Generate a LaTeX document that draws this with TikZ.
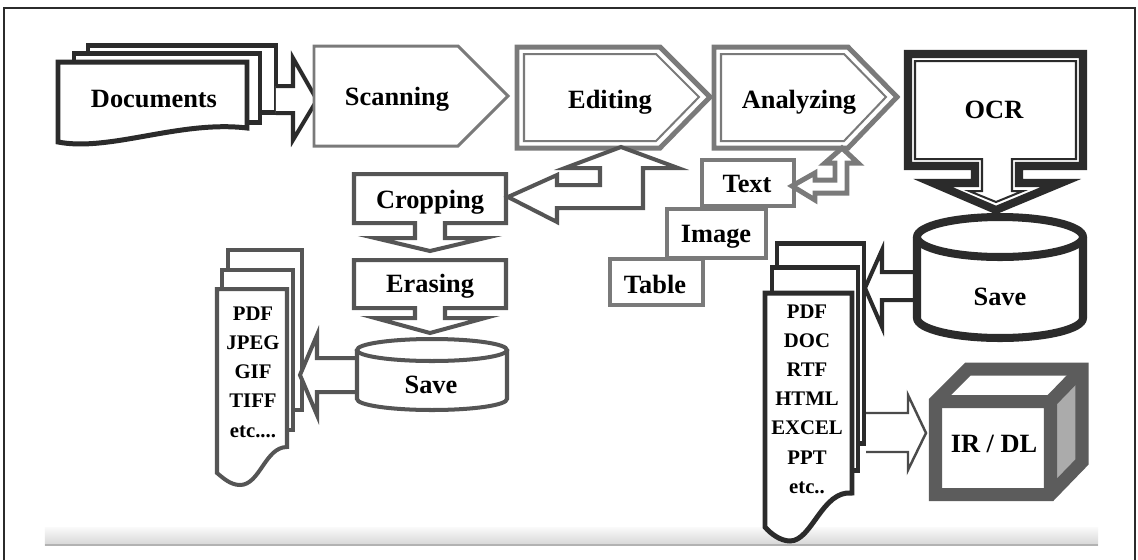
\documentclass[tikz,border=0pt]{standalone}
\usepackage{fontspec}
\setmainfont{Liberation Serif}
\definecolor{inkdark}{HTML}{2B2B2B}
\definecolor{inkmid}{HTML}{555555}
\definecolor{inkgray}{HTML}{7A7A7A}
\definecolor{cubegray}{HTML}{5C5C5C}
\definecolor{sidegray}{HTML}{ABABAB}

\begin{document}
\begin{tikzpicture}[x=0.01cm,y=-0.01cm,line join=miter,
  lbl/.style={font=\bfseries\fontsize{7.5}{9}\selectfont,anchor=base,inner sep=0pt},
  lst/.style={font=\bfseries\fontsize{5.9}{7}\selectfont,anchor=base,inner sep=0pt},
  darkline/.style={draw=inkdark,line width=1.42pt,fill=white},
  midline/.style={draw=inkmid,line width=1.14pt,fill=white},
  grayline/.style={draw=inkgray,line width=1.14pt,fill=white}]
\useasboundingbox (0,0) rectangle (1138,560);
\fill[white] (0,0) rectangle (1138,560);
\draw[inkdark,line width=0.7pt] (4,560)--(4,8)--(1135,8)--(1135,560);
\shade[top color=gray!4,bottom color=gray!32] (45,527) rectangle (1098,545);
\draw[gray!60,line width=0.4pt] (45,545)--(1098,545);

\draw[darkline] (88,45) rectangle (276,112);
\draw[darkline] (74,53) rectangle (260,122);
\draw[darkline] (58,62)--(247,62)--(247,128) .. controls (180,120) and (110,152) .. (58,142)--cycle;
\draw[darkline,line width=1.14pt] (276,86)--(293,86)--(293,58)--(317,100)--(293,140)--(293,113)--(276,113);

\draw[grayline,line width=0.85pt] (314,46)--(458,46)--(508,96)--(458,146)--(314,146)--cycle;
\draw[grayline,line width=1.42pt] (517,47)--(660,47)--(710,97)--(660,148)--(517,148)--cycle;
\draw[inkgray,line width=0.57pt] (524,54)--(656,54)--(699,97)--(656,141)--(524,141)--cycle;
\draw[grayline,line width=1.42pt] (714,47)--(848,47)--(897,97)--(848,148)--(714,148)--cycle;
\draw[inkgray,line width=0.57pt] (721,54)--(844,54)--(886,97)--(844,141)--(721,141)--cycle;

\draw[darkline,line width=2.28pt] (908,54)--(1083,54)--(1083,166)--(1019,166)--(1019,183)--(1061,183)--(996,210)--(933,183)--(975,183)--(975,166)--(908,166)--cycle;
\draw[inkdark,line width=0.57pt] (915,61)--(1076,61)--(1076,159)--(1012,159)--(1012,191)--(1023,191)--(996,202)--(969,191)--(982,191)--(982,159)--(915,159)--cycle;

\draw[darkline] (777,243) rectangle (864,443);
\draw[darkline] (772,267) rectangle (858,470);
\draw[darkline] (765,293)--(852,293)--(852,493) .. controls (822,490) and (812,541) .. (790,541) .. controls (780,541) and (770,533) .. (765,527)--cycle;
\draw[darkline,line width=1.14pt] (920,272)--(882,272)--(882,250)--(865,288)--(882,327)--(882,300)--(920,300);
\draw[darkline,line width=2.28pt] (917,237)--(917,318) arc[start angle=180,end angle=0,x radius=83,y radius=20]--(1083,237);
\draw[darkline,line width=2.28pt] (1000,237) ellipse[x radius=83,y radius=20];
\draw[draw=inkdark!85,line width=0.7pt,fill=white] (866,413)--(908,413)--(908,395)--(926,433)--(908,470)--(908,452)--(866,452);

\fill[white] (935.5,494.5)--(935.5,401.5)--(968,369)--(1082,369)--(1082,462)--(1050.5,494.5)--cycle;
\fill[sidegray] (1050.5,401.5)--(1082,369)--(1082,462)--(1050.5,494.5)--cycle;
\draw[cubegray,line width=3.7pt] (935.5,494.5)--(935.5,401.5)--(968,369)--(1082,369)--(1082,462)--(1050.5,494.5)--cycle;
\draw[cubegray,line width=3.7pt] (935.5,401.5)--(1050.5,401.5)--(1050.5,494.5) (1050.5,401.5)--(1082,369);

\draw[midline] (354,174)--(506,174)--(506,223)--(445,223)--(445,238)--(485,238)--(430,251)--(375,238)--(415,238)--(415,223)--(354,223)--cycle;
\draw[midline] (354,260)--(506,260)--(506,308)--(445,308)--(445,318)--(485,318)--(430,333)--(375,318)--(415,318)--(415,308)--(354,308)--cycle;
\draw[midline] (621,147)--(678,168)--(643,168)--(643,208)--(557,208)--(557,222)--(508,197)--(557,175)--(557,185)--(600,185)--(600,168)--(565,168)--cycle;

\draw[midline] (228,250) rectangle (302,410);
\draw[midline] (222,270) rectangle (293,430);
\draw[midline] (217,289)--(287,289)--(287,447) .. controls (265,447) and (260,485) .. (240,485) .. controls (230,485) and (222,477) .. (217,473)--cycle;
\draw[midline] (360,358)--(317,358)--(317,335)--(300,375)--(317,415)--(317,392)--(360,392);
\draw[midline] (357,350)--(357,399) arc[start angle=180,end angle=0,x radius=75,y radius=11]--(507,350);
\draw[midline] (432,350) ellipse[x radius=75,y radius=11];

\draw[grayline] (702,160) rectangle (794,206);
\draw[grayline] (667,209) rectangle (766,258);
\draw[grayline] (610,259) rectangle (703,305);
\draw[grayline,line width=1.42pt] (842,148)--(858,163)--(847,163)--(847,193)--(815,193)--(815,200)--(792,186)--(815,173)--(815,180)--(835,180)--(835,163)--(825,163)--cycle;

\node[lbl] (docs) at (154,107) {Documents};
\node[lbl] (scan) at (397,105) {Scanning};
\node[lbl] (edit) at (610,108) {Editing};
\node[lbl] (analyze) at (799,108) {Analyzing};
\node[lbl] (ocr) at (994,118) {OCR};
\node[lbl] (crop) at (430,208) {Cropping};
\node[lbl] (erase) at (430,292) {Erasing};
\node[lbl] (saveL) at (431,393) {Save};
\node[lbl] (saveR) at (1000,305) {Save};
\node[lbl] (txt) at (747,192) {Text};
\node[lbl] (img) at (716,242) {Image};
\node[lbl] (tbl) at (655,293) {Table};
\node[lbl] (irdl) at (994,452) {IR / DL};
\foreach \t [count=\i] in {PDF,JPEG,GIF,TIFF}
  \node[lst] (fmtL\i) at (253,{320+29.2*(\i-1)}) {\t};
\node[lst] (fmtL5) at (253,437) {etc....};
\foreach \t [count=\i] in {PDF,DOC,RTF,HTML,EXCEL,PPT}
  \node[lst] (fmtR\i) at (807,{318+29.2*(\i-1)}) {\t};
\node[lst] (fmtR7) at (807,493) {etc..};
\end{tikzpicture}
\end{document}
